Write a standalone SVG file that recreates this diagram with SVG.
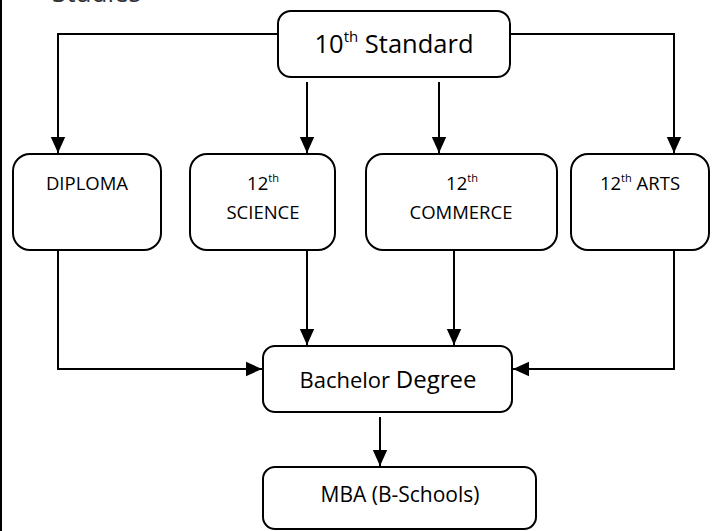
<svg xmlns="http://www.w3.org/2000/svg" width="715" height="531" viewBox="0 0 715 531">
<defs>
<style>
.box{fill:#fff;stroke:#000;stroke-width:2}
.t{font-family:"Open Sans","Liberation Sans",sans-serif;fill:#000;text-anchor:middle}
.s{font-size:18.5px}
.sup{font-size:11px}
.c{fill:none;stroke:#000;stroke-width:2}
</style>
<marker id="ah" viewBox="0 0 10 10" refX="10" refY="5" markerWidth="8" markerHeight="8" markerUnits="strokeWidth" orient="auto">
<path d="M0,0.5 L10,5 L0,9.5 z" fill="#000"/>
</marker>
</defs>
<rect x="0" y="0" width="715" height="531" fill="#fff"/>
<rect x="0" y="0" width="2" height="531" fill="#000"/>
<text x="52" y="1.5" style="font-family:'Open Sans','Liberation Sans',sans-serif;font-size:26px;fill:#333">Studies</text>
<g id="connectors">
<path class="c" d="M278,34 H58 V153" marker-end="url(#ah)"/>
<path class="c" d="M510,34 H674 V153" marker-end="url(#ah)"/>
<path class="c" d="M307,82 V153" marker-end="url(#ah)"/>
<path class="c" d="M439,82 V153" marker-end="url(#ah)"/>
<path class="c" d="M58,250 V369 H262" marker-end="url(#ah)"/>
<path class="c" d="M674,250 V369 H513" marker-end="url(#ah)"/>
<path class="c" d="M307,250 V345" marker-end="url(#ah)"/>
<path class="c" d="M454,250 V345" marker-end="url(#ah)"/>
<path class="c" d="M380,417 V466" marker-end="url(#ah)"/>
</g>
<g id="n10th">
<rect class="box" x="278" y="11" width="232" height="66" rx="13"/>
<text class="t" x="394" y="53" style="font-size:25.5px">10<tspan dy="-11" style="font-size:15px">th</tspan><tspan dy="11"> Standard</tspan></text>
</g>
<g id="diploma">
<rect class="box" x="13" y="154" width="148" height="96" rx="17"/>
<text class="t s" x="87" y="190">DIPLOMA</text>
</g>
<g id="science">
<rect class="box" x="190" y="154" width="145" height="96" rx="17"/>
<text class="t s" x="263" y="190">12<tspan class="sup" dy="-8">th</tspan></text>
<text class="t s" x="263" y="219">SCIENCE</text>
</g>
<g id="commerce">
<rect class="box" x="366" y="154" width="191" height="96" rx="17"/>
<text class="t s" x="462" y="190">12<tspan class="sup" dy="-8">th</tspan></text>
<text class="t s" x="461" y="219">COMMERCE</text>
</g>
<g id="arts">
<rect class="box" x="571" y="154" width="138" height="96" rx="17"/>
<text class="t s" x="640" y="190">12<tspan class="sup" dy="-8">th</tspan><tspan dy="8"> ARTS</tspan></text>
</g>
<g id="bachelor">
<rect class="box" x="263" y="346" width="249" height="66" rx="12"/>
<text class="t" x="388" y="388"><tspan style="font-size:22px">Bachelor </tspan><tspan style="font-size:24px">Degree</tspan></text>
</g>
<g id="mba">
<rect class="box" x="263" y="467" width="273" height="62" rx="12"/>
<text class="t" x="400" y="502" style="font-size:21px">MBA (B-Schools)</text>
</g>
</svg>
